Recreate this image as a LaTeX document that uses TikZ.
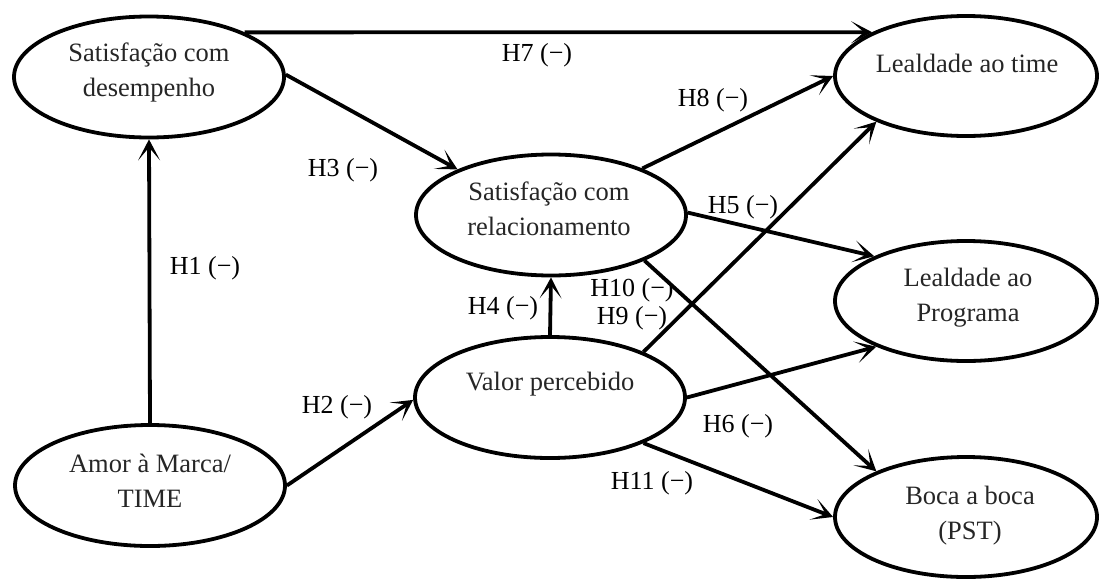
\documentclass[tikz,border=0pt]{standalone}
\usepackage{fontspec}
\setmainfont{Liberation Serif}
\usetikzlibrary{shapes.geometric,arrows.meta}
\begin{document}
\begin{tikzpicture}[x=1pt,y=-1pt,
  ell/.style={draw,ellipse,line width=3.8pt,inner sep=0pt,minimum width=270pt,minimum height=121pt},
  rell/.style={ell,minimum width=262pt,minimum height=120pt},
  txt/.style={align=center,text=black!85,inner sep=0pt,font=\fontsize{26.5}{35}\selectfont},
  lab/.style={inner sep=0pt,font=\fontsize{26}{30}\selectfont},
  arr/.style={line width=3.8pt,-{Stealth[length=21pt,width=22pt,inset=13pt]}},
  ln/.style={line width=3.8pt}]
\useasboundingbox (0,0) rectangle (1099,581);
\fill[white] (0,0) rectangle (1099,581);
% ellipses
\node[ell] (sd) at (149,77) {};
\node[ell] (sr) at (551,215) {};
\node[ell] (vp) at (550,397.5) {};
\node[ell] (am) at (150,485.5) {};
\node[rell] (lt) at (966,76) {};
\node[rell] (lp) at (966,301) {};
\node[rell] (bb) at (966,517) {};
% texts
\node[txt] (sdt) at (149,72) {Satisfação com\\desempenho};
\node[txt] (srt) at (549,209) {Satisfação com\\relacionamento};
\node[txt] (vpt) at (550,384) {Valor percebido};
\node[txt] (amt) at (150,481) {Amor à Marca/\\TIME};
\node[txt] (ltt) at (967,63) {Lealdade ao time};
\node[txt] (lpt) at (968,298) {Lealdade ao\\Programa};
\node[txt] (bbt) at (970,516) {Boca a boca\\(PST)};
% connectors
\draw[arr] (sd.25) -- (lt.155);
\draw[arr] (sd.1) -- (sr.154);
\draw[arr] (am.90) -- (sd.270);
\draw[arr] (am.0) -- (vp.181);
\draw[arr] (vp.90) -- (sr.270);
\draw[arr] (sr.27) -- (lt.180);
\draw[arr] (sr.1) -- (lp.154);
\draw[arr] (sr.-26) -- (bb.153);
\draw[arr] (vp.26) -- (lt.207);
\draw[arr] (vp.0) -- (lp.207);
\draw[arr] (vp.-26) -- (bb.180);
% labels
\node[lab] (h7) at (537,55) {H7 (−)};
\node[lab] (h3) at (343,170) {H3 (−)};
\node[lab] (h1) at (205,268) {H1 (−)};
\node[lab] (h2) at (337,407) {H2 (−)};
\node[lab] (h4) at (503,308) {H4 (−)};
\node[lab] (h8) at (713,100) {H8 (−)};
\node[lab] (h5) at (743,207) {H5 (−)};
\node[lab] (h10) at (632,290) {H10 (−)};
\node[lab] (h9) at (632,318) {H9 (−)};
\node[lab] (h6) at (738,426) {H6 (−)};
\node[lab] (h11) at (652,483) {H11 (−)};
\end{tikzpicture}
\end{document}
